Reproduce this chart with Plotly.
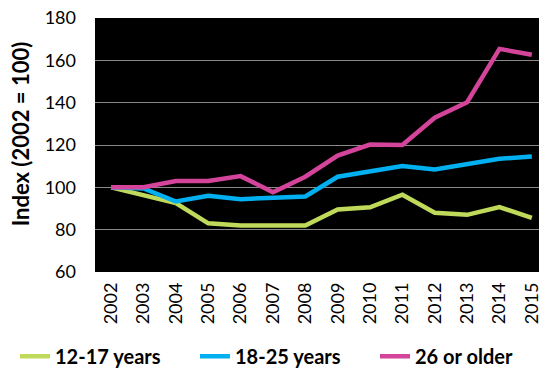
import plotly.graph_objects as go

years = [str(y) for y in range(2002, 2016)]
teen = [100, 96.5, 92.6, 83, 82, 82, 82, 89.5, 90.6, 96.5, 88, 87, 90.7, 85.6]
young = [100, 99.5, 93.3, 96, 94.4, 94.9, 95.7, 105, 107.6, 110.1, 108.4, 110.9, 113.5, 114.6]
older = [100, 100, 103, 103, 105.3, 97.7, 105, 115, 120.2, 120, 132.9, 140.2, 165.4, 162.6]
names = ["12-17 years", "18-25 years", "26 or older"]
colors = ["#BFD95A", "#00B0F0", "#D4449A"]
y_ticks = [60, 80, 100, 120, 140, 160, 180]

fig = go.Figure()
for name, vals, c in zip(names, [teen, young, older], colors):
    fig.add_trace(go.Scatter(x=years, y=vals, mode="lines", name=name,
                             line=dict(color=c, width=4.5)))

fig.add_annotation(text="<b>Index (2002 = 100)</b>", textangle=-90,
                   xref="paper", yref="paper", x=-0.1656, y=0.546,
                   xanchor="center", yanchor="middle", showarrow=False,
                   font=dict(size=22, family="Lato, sans-serif", color="black"))

fig.update_layout(
    width=547, height=375,
    margin=dict(l=87, r=7, t=10, b=106),
    paper_bgcolor="white", plot_bgcolor="black",
    font=dict(family="Lato, Open Sans, sans-serif", size=18, color="black"),
    showlegend=True,
    legend=dict(orientation="h", xref="paper", x=-0.152, xanchor="left",
                yref="paper", y=-0.332, yanchor="middle",
                font=dict(family="Lato, sans-serif", size=20, color="black", weight="bold"),
                entrywidth=135, entrywidthmode="pixels", itemwidth=30,
                tracegroupgap=0, bgcolor="rgba(0,0,0,0)"),
    xaxis=dict(type="category", range=[-0.5, 13.5], tickangle=-90, showgrid=False, ticks="",
               showline=False, tickfont=dict(size=18), ticklabelstandoff=6, automargin=False,
               ticklabeloverflow="allow"),
    yaxis=dict(range=[60, 180], tickvals=y_ticks, showgrid=True,
               gridcolor="#8a8a8a", gridwidth=1, zeroline=False, ticks="",
               tickfont=dict(size=18), ticklabelstandoff=18, automargin=False,
               ticklabeloverflow="allow"),
)
fig.write_html("out.html")
